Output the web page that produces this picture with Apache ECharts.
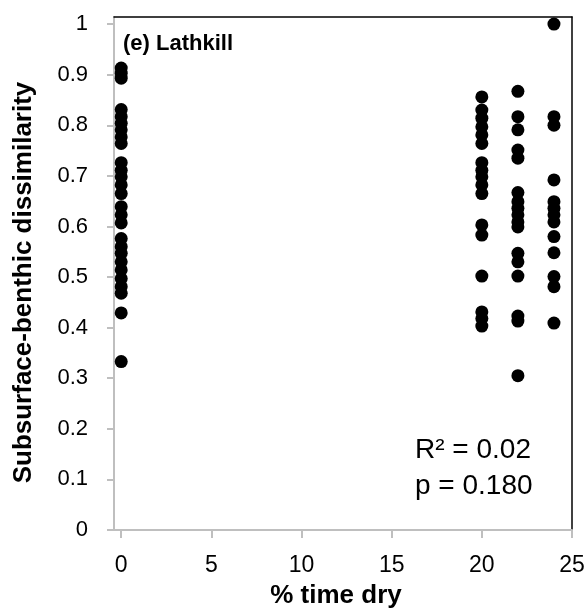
<!DOCTYPE html>
<html>
<head>
<meta charset="utf-8">
<script src="https://cdn.jsdelivr.net/npm/echarts@6/dist/echarts.min.js"></script>
<style>html,body{margin:0;padding:0;background:#fff;}#chart{width:584px;height:608px;}</style>
</head>
<body>
<div id="chart"></div>
<script>
// ---- Data ----
var dryPercent = [0, 20, 22, 24];
var dissimilarityAt0 = [0.913, 0.903, 0.893, 0.831, 0.817, 0.804, 0.791, 0.777, 0.764, 0.726, 0.711, 0.698, 0.682, 0.665, 0.639, 0.623, 0.607, 0.576, 0.560, 0.547, 0.530, 0.514, 0.497, 0.481, 0.468, 0.429, 0.333];
var dissimilarityAt20 = [0.856, 0.830, 0.814, 0.797, 0.781, 0.764, 0.726, 0.711, 0.698, 0.682, 0.665, 0.603, 0.583, 0.502, 0.431, 0.418, 0.403];
var dissimilarityAt22 = [0.867, 0.817, 0.791, 0.751, 0.735, 0.667, 0.649, 0.636, 0.623, 0.609, 0.599, 0.547, 0.530, 0.502, 0.423, 0.413, 0.305];
var dissimilarityAt24 = [1.0, 0.817, 0.800, 0.692, 0.649, 0.636, 0.623, 0.609, 0.580, 0.548, 0.501, 0.481, 0.409];
var xTicks = [0, 5, 10, 15, 20, 25];
var yTicks = [0, 0.1, 0.2, 0.3, 0.4, 0.5, 0.6, 0.7, 0.8, 0.9, 1];
var panelLabel = '(e) Lathkill';
var statsText = 'R\u00B2 = 0.02\np = 0.180';
var xTitle = '% time dry';
var yTitle = 'Subsurface-benthic dissimilarity';

var groups = [dissimilarityAt0, dissimilarityAt20, dissimilarityAt22, dissimilarityAt24];
var points = [];
groups.forEach(function (vals, i) {
  vals.forEach(function (v) { points.push([dryPercent[i], v]); });
});

var FONT = '"Liberation Sans", Arial, sans-serif';
var gray = '#bfbfbf';
var chart = echarts.init(document.getElementById('chart'));
chart.setOption({
  animation: false,
  backgroundColor: '#fff',
  grid: { left: 114, right: 12, top: 17, bottom: 78, containLabel: false, outerBoundsMode: 'none' },
  xAxis: [{
    type: 'value', min: -0.4, max: 25,
    name: xTitle, nameLocation: 'middle', nameGap: 53,
    nameTextStyle: { fontFamily: FONT, fontSize: 26, fontWeight: 'bold', color: '#000', padding: [0, 14, 0, 0] },
    axisLine: { show: true, onZero: false, lineStyle: { color: gray, width: 2 } },
    axisTick: { show: true, length: 8, customValues: xTicks, lineStyle: { color: gray, width: 2 } },
    axisLabel: { customValues: xTicks, margin: 24, fontFamily: FONT, fontSize: 23, color: '#000' },
    splitLine: { show: false }
  }, {
    type: 'value', min: -0.4, max: 25, position: 'top',
    axisLine: { show: true, onZero: false, lineStyle: { color: '#000', width: 1.5 } },
    axisTick: { show: false }, axisLabel: { show: false }, splitLine: { show: false }
  }],
  yAxis: [{
    type: 'value', min: 0, max: 1.014,
    name: yTitle, nameLocation: 'middle', nameGap: 77,
    nameTextStyle: { fontFamily: FONT, fontSize: 26, fontWeight: 'bold', color: '#000', padding: [0, 18, 0, 0] },
    axisLine: { show: true, onZero: false, lineStyle: { color: gray, width: 2 } },
    axisTick: { show: true, length: 7, customValues: yTicks, lineStyle: { color: gray, width: 2 } },
    axisLabel: { customValues: yTicks, margin: 26, fontFamily: FONT, fontSize: 22, color: '#000',
      formatter: function (v) { return String(Math.round(v * 10) / 10); } },
    splitLine: { show: false }
  }, {
    type: 'value', min: 0, max: 1.014, position: 'right',
    axisLine: { show: true, onZero: false, lineStyle: { color: '#000', width: 1.5 } },
    axisTick: { show: false }, axisLabel: { show: false }, splitLine: { show: false }
  }],
  series: [{
    type: 'scatter', xAxisIndex: 0, yAxisIndex: 0,
    data: points, symbol: 'circle', symbolSize: 13,
    itemStyle: { color: '#000', opacity: 1 }
  }],
  graphic: [{
    type: 'text', left: 123, top: 33,
    style: { text: panelLabel, font: 'bold 22px ' + FONT, fill: '#000' }
  }, {
    type: 'text', left: 415, top: 432,
    style: { text: statsText, font: '28px ' + FONT, fill: '#000', lineHeight: 36 }
  }]
});
</script>
</body>
</html>
